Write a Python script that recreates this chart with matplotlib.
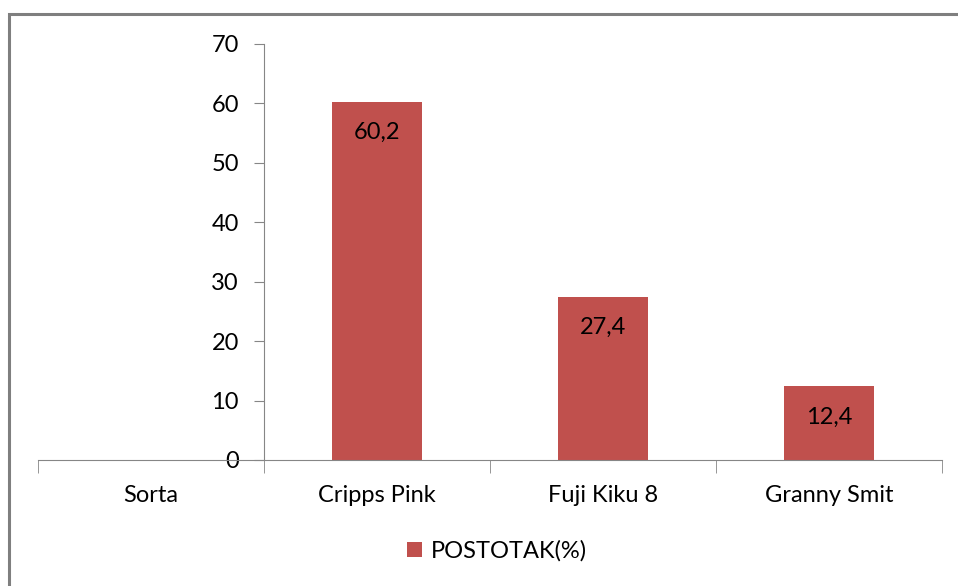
import matplotlib
matplotlib.use("Agg")
import matplotlib.pyplot as plt
from matplotlib.patches import Rectangle
import numpy as np

categories = ["Sorta", "Cripps Pink", "Fuji Kiku 8", "Granny Smit"]
values = [np.nan, 60.2, 27.4, 12.4]
series_name = "POSTOTAK(%)"
yticks = [0, 10, 20, 30, 40, 50, 60, 70]

bar_color = "#C0504D"
axis_color = "#868686"
plt.rcParams["font.family"] = ["Lato", "DejaVu Sans"]

W, H = 958, 586
fig = plt.figure(figsize=(W / 100, H / 100), dpi=100)
fig.patch.set_facecolor("white")

# outer chart frame (runs off the right and bottom edges)
fig.patches.append(Rectangle((9 / W, -0.05), 1.2, 1 - 14 / H + 0.05,
                             transform=fig.transFigure, fill=False,
                             edgecolor="#7f7f7f", linewidth=2.2))

ax = fig.add_axes([38 / W, 1 - 460 / H, 904 / W, 416 / H])
# y axis sits between the first and second category
ax.spines["left"].set_position(("data", 0.5))
for s in ["top", "right"]:
    ax.spines[s].set_visible(False)
ax.spines["left"].set_color(axis_color)
ax.spines["bottom"].set_color(axis_color)
ax.set_facecolor("none")

x = np.arange(len(categories))
bars = ax.bar(x, values, width=0.4, color=bar_color)

for xi, v in zip(x, values):
    if np.isnan(v):
        continue
    ax.annotate(f"{v:.1f}".replace(".", ","), (xi, v), xytext=(0, -22),
                textcoords="offset points", ha="center", va="center",
                fontsize=17, color="black")

ax.set_xlim(-0.5, len(categories) - 0.5)
ax.set_ylim(0, 70)
ax.set_yticks(yticks)
ax.set_yticklabels([str(t) for t in yticks])

ax.set_xticks(x)
ax.set_xticklabels(categories)
ax.tick_params(axis="x", which="major", length=0, pad=18, labelsize=17)
ax.set_xticks(np.arange(-0.5, len(categories)), minor=True)
ax.tick_params(axis="x", which="minor", length=9, color=axis_color, direction="out")
ax.tick_params(axis="y", length=7, color=axis_color, pad=11, labelsize=17)

fig.legend([bars], [series_name], loc="center", bbox_to_anchor=(497 / W, 1 - 551 / H),
           frameon=False, fontsize=17, handlelength=0.65, handleheight=0.65,
           handletextpad=0.4)

fig.savefig("out.png", dpi=100)
